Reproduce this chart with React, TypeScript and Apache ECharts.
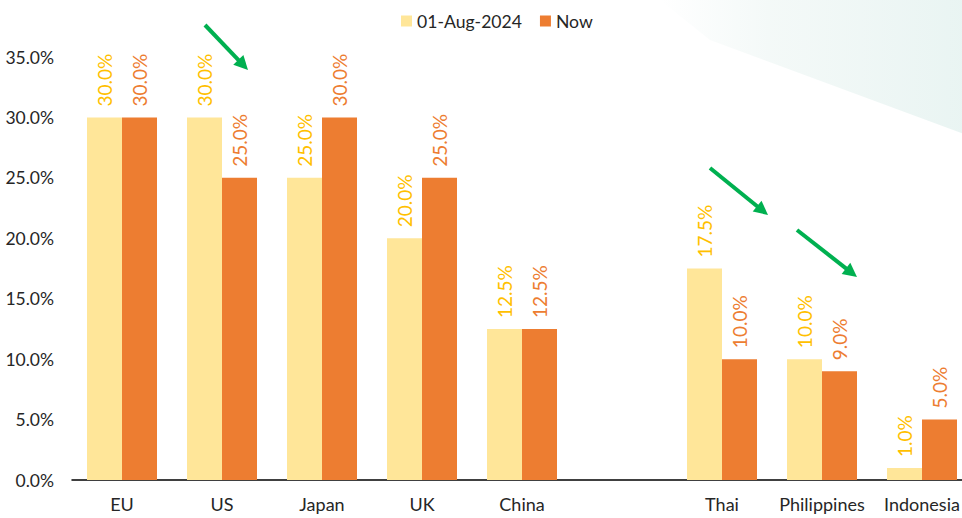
import React, { useEffect, useRef } from "react";
import * as echarts from "echarts";

const categories = ["EU", "US", "Japan", "UK", "China", "", "Thai", "Philippines", "Indonesia"];
const seriesNames = ["01-Aug-2024", "Now"];
const aug2024 = [30.0, 30.0, 25.0, 20.0, 12.5, null, 17.5, 10.0, 1.0];
const nowValues = [30.0, 25.0, 30.0, 25.0, 12.5, null, 10.0, 9.0, 5.0];
const yTicks = { min: 0, max: 35, interval: 5 };

// annotation arrows [x1, y1, x2, y2] in pixels
const arrows = [
  [205, 25, 248, 70],
  [710, 168, 768, 215],
  [797, 230, 857, 277],
];

const FONT = "Lato, 'Noto Sans', sans-serif";

function arrowGraphics() {
  const out: any[] = [];
  arrows.forEach(([x1, y1, x2, y2]) => {
    const dx = x2 - x1, dy = y2 - y1;
    const len = Math.sqrt(dx * dx + dy * dy);
    const ux = dx / len, uy = dy / len;
    const headLen = 14, headW = 7;
    const bx = x2 - ux * headLen, by = y2 - uy * headLen;
    out.push({
      type: "line",
      shape: { x1, y1, x2: bx + ux * 2, y2: by + uy * 2 },
      style: { stroke: "#00B050", lineWidth: 4 },
      z: 100,
    });
    out.push({
      type: "polygon",
      shape: {
        points: [
          [x2, y2],
          [bx - uy * headW, by + ux * headW],
          [bx + uy * headW, by - ux * headW],
        ],
      },
      style: { fill: "#00B050" },
      z: 100,
    });
  });
  return out;
}

export default function App() {
  const ref = useRef<HTMLDivElement>(null);
  useEffect(() => {
    if (!ref.current) return;
    const chart = echarts.init(ref.current, null, { renderer: "svg" });
    const labelFmt = (p: any) => (p.value == null ? "" : Number(p.value).toFixed(1) + "%");
    const labelBase = {
      show: true,
      position: "top",
      rotate: 90,
      align: "left",
      verticalAlign: "middle",
      distance: 11,
      fontSize: 19,
      fontFamily: FONT,
      formatter: labelFmt,
    };
    chart.setOption({
      animation: false,
      backgroundColor: "#ffffff",
      textStyle: { fontFamily: FONT },
      legend: {
        left: 396,
        top: 7,
        itemWidth: 11,
        itemHeight: 11,
        itemGap: 18,
        icon: "rect",
        textStyle: { fontSize: 17.6, color: "#262626", fontFamily: FONT },
        data: seriesNames,
      },
      grid: { left: 72, top: 57, width: 900, height: 423, containLabel: false },
      xAxis: {
        type: "category",
        data: categories,
        axisLine: { lineStyle: { color: "#000000", width: 1.5 } },
        axisTick: { show: false },
        axisLabel: { interval: 0, fontSize: 18, color: "#262626", margin: 15, fontFamily: FONT },
      },
      yAxis: {
        type: "value",
        min: yTicks.min,
        max: yTicks.max,
        interval: yTicks.interval,
        splitLine: { show: false },
        axisLine: { show: false },
        axisTick: { show: false },
        axisLabel: {
          fontSize: 17.5,
          color: "#262626",
          margin: 18,
          fontFamily: FONT,
          formatter: (v: number) => v.toFixed(1) + "%",
        },
      },
      series: [
        {
          name: seriesNames[0],
          type: "bar",
          data: aug2024,
          barWidth: 35,
          barGap: "0%",
          itemStyle: { color: "#FFE699" },
          label: { ...labelBase, color: "#FFC000" },
        },
        {
          name: seriesNames[1],
          type: "bar",
          data: nowValues,
          barWidth: 35,
          barGap: "0%",
          itemStyle: { color: "#ED7D31" },
          label: { ...labelBase, color: "#ED7D31" },
        },
      ],
      graphic: [
        {
          type: "polygon",
          shape: { points: [[660, 0], [980, 0], [980, 140], [710, 40]] },
          style: {
            fill: new echarts.graphic.LinearGradient(0, 0, 1, 0, [
              { offset: 0, color: "rgba(236,245,243,0)" },
              { offset: 0.35, color: "rgba(236,245,243,0.6)" },
              { offset: 1, color: "rgba(232,244,242,1)" },
            ]),
          },
          z: -10,
          silent: true,
        },
        ...arrowGraphics(),
      ],
    });
    return () => chart.dispose();
  }, []);
  return (
    <div style={{ width: 962, height: 518, position: "absolute", left: 0, top: 0, overflow: "hidden" }}>
      <div ref={ref} style={{ width: 980, height: 518 }} />
    </div>
  );
}
